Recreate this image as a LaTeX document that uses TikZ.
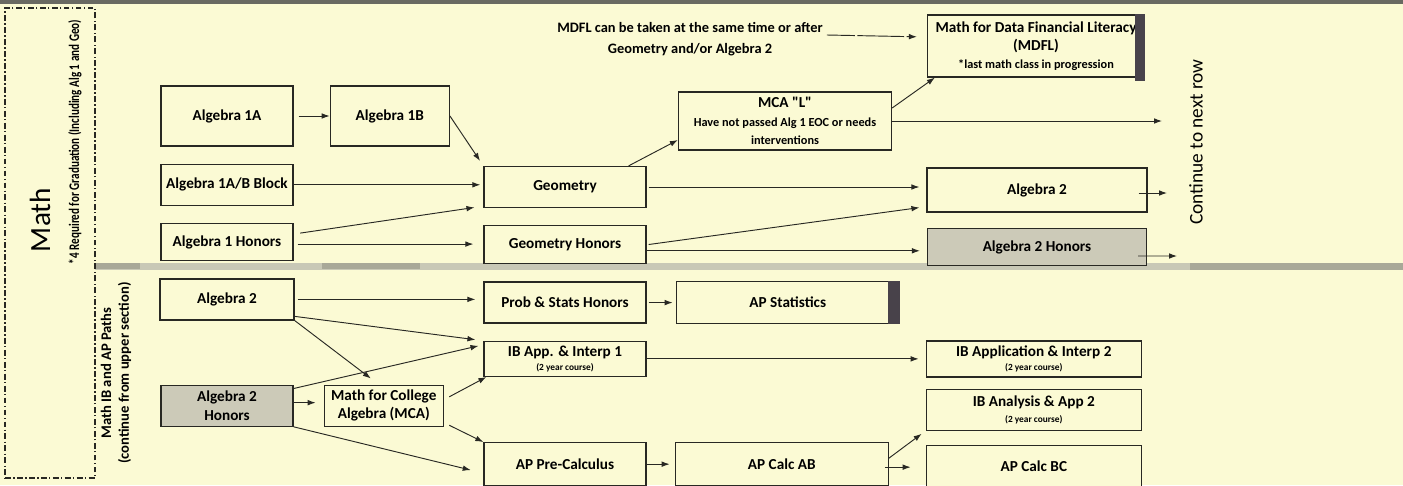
\documentclass[tikz,border=0pt]{standalone}
\usepackage{fontspec}
\usepackage{graphicx}
\setmainfont{Carlito}
\usetikzlibrary{positioning,arrows,arrows.meta}
\definecolor{paper}{RGB}{251,250,212}
\definecolor{inkc}{RGB}{40,40,35}
\definecolor{shade}{RGB}{204,202,184}
\definecolor{bandc}{RGB}{200,200,182}
\definecolor{bandd}{RGB}{168,168,152}
\definecolor{darkbar}{RGB}{72,66,74}
\definecolor{topband}{RGB}{105,105,98}
\newcommand\sq{\XeTeXglyph\XeTeXcharglyph"22\relax}

\begin{document}
\begin{tikzpicture}[
  x=0.3mm,y=-0.3mm,
  node distance=5.1mm and 10.8mm,
  course/.style={draw=inkc,line width=1.1pt,fill=paper,align=center,inner sep=1pt,
    font=\bfseries\fontsize{13}{15.5}\selectfont},
  shaded/.style={course,fill=shade},
  link/.style={draw=inkc,line width=0.8pt,-{Latex[length=2.4mm,width=1.7mm]}}
]
\useasboundingbox (0,0) rectangle (1403,485);
\fill[paper] (0,0) rectangle (1403,485);
\fill[topband] (0,0) rectangle (1403,4);
% divider between the two sections
\fill[bandc] (95,263) rectangle (1403,270);
\fill[bandd] (95,263) rectangle (140,269);
\fill[bandd] (322,263) rectangle (420,269);
\fill[bandd] (1190,263) rectangle (1403,270);

% side labels
\node[draw=inkc,line width=1.3pt,dash pattern=on 5pt off 2pt on 1.2pt off 2pt,
  minimum width=27mm,minimum height=141mm] (mathframe) at (50,243) {};
\node[rotate=90,font=\fontsize{25}{30}\selectfont] (mathlbl) at (40,220) {Math};
\node[rotate=90,font=\bfseries\fontsize{12.5}{15}\selectfont] (gradlbl) at (75,142)
  {\scalebox{0.76}[1]{*4 Required for Graduation (Including Alg 1 and Geo)}};
\node[rotate=90,align=center,font=\bfseries\fontsize{12.5}{15.3}\selectfont] (pathlbl) at (116,373)
  {Math IB and AP Paths\\(continue from upper section)};
\node[rotate=90,font=\fontsize{16.5}{19}\selectfont] (contlbl) at (1196,142) {Continue to next row};
\node[align=center,font=\bfseries\fontsize{12.3}{18.5}\selectfont] (mdflnote) at (690,39)
  {MDFL can be taken at the same time or after\\Geometry and/or Algebra 2};

% first column
\node[course,minimum width=39.6mm,minimum height=18mm] (alga) at (227,116) {Algebra 1A};
\node[course,minimum width=39.6mm,minimum height=12.3mm,below=of alga] (algblock) {Algebra 1A/B Block};
\node[course,minimum width=39.6mm,minimum height=11.1mm,below=of algblock] (alghon) {Algebra 1 Honors};
\node[course,minimum width=40.2mm,minimum height=12.3mm,below=of alghon] (lalgtwo) {Algebra 2};
\node[shaded,minimum width=39.6mm,minimum height=12.3mm,below=19.2mm of lalgtwo] (lalgtwohon)
  {Algebra 2\\Honors};

% second column
\node[course,minimum width=35.7mm,minimum height=18mm,right=of alga] (algb) {Algebra 1B};
\node[course,minimum width=35.7mm,minimum height=12.3mm,right=9mm of lalgtwohon] (mca)
  {Math for College\\Algebra (MCA)};

% third column
\node[course,minimum width=48.6mm,minimum height=12.3mm] (geo) at (565,187) {Geometry};
\node[course,minimum width=48.6mm,minimum height=11.4mm,below=of geo] (geohon) {Geometry Honors};
\node[course,minimum width=48.6mm,minimum height=12.3mm,below=of geohon] (probstat) {Prob \& Stats Honors};
\node[course,minimum width=48.6mm,minimum height=10.5mm,below=of probstat] (ibappone)
  {IB App. \& Interp 1\\[-3pt]\fontsize{8}{9}\selectfont (2 year course)};
\node[course,minimum width=48.6mm,minimum height=12.9mm,below=19.5mm of ibappone] (precalc) {AP Pre-Calculus};

% fourth column
\node[course,minimum width=63.9mm,minimum height=17.4mm] (mcal) at (785,121)
  {MCA \sq L\sq\\\fontsize{10.5}{12.5}\selectfont Have not passed Alg 1 EOC or needs\\
   \fontsize{10.5}{12.5}\selectfont interventions};
\node[course,minimum width=66.9mm,minimum height=12.6mm,right=8.7mm of probstat] (apstat) {AP Statistics};
\node[course,minimum width=63.9mm,minimum height=12.9mm,right=8.4mm of precalc] (calcab) {AP Calc AB};

% fifth column
\node[course,minimum width=65.1mm,minimum height=18.6mm] (mdfl) at (1036,46)
  {Math for Data Financial Literacy\\(MDFL)\\\fontsize{10.5}{12}\selectfont *last math class in progression};
\node[course,minimum width=66mm,minimum height=13.2mm] (algtwo) at (1037,190) {Algebra 2};
\node[shaded,minimum width=65.7mm,minimum height=11.1mm] (algtwohon) at (1037,247) {Algebra 2 Honors};
\node[course,minimum width=64.5mm,minimum height=10.8mm,right=83.7mm of ibappone] (ibapptwo)
  {IB Application \& Interp 2\\[-3pt]\fontsize{8}{9}\selectfont (2 year course)};
\node[course,minimum width=64.5mm,minimum height=12.3mm,below=3.3mm of ibapptwo] (ibanatwo)
  {IB Analysis \& App 2\\[-2pt]\fontsize{8}{9}\selectfont (2 year course)};
\node[course,minimum width=64.5mm,minimum height=12.6mm,below=4.2mm of ibanatwo] (calcbc) {AP Calc BC};

\fill[darkbar] ([xshift=-3mm]mdfl.north east) rectangle ([yshift=-0.9mm]mdfl.south east);
\fill[darkbar] ([xshift=-3.6mm]apstat.north east) rectangle (apstat.south east);

\coordinate (nextone) at (1162,121);
\coordinate (nexttwo) at (1167,193);
\coordinate (nextthree) at (1177,256);

% upper section
\path (alga) edge[link,shorten <=1.5mm] (algb)
(algb.east) edge[link,shorten >=1.8mm] (geo.north west)
(algblock.east) edge[link,shorten >=0.9mm] (algblock.east -| geo.west)
([yshift=2.4mm]alghon.east) edge[link,shorten <=2mm,shorten >=2.7mm] ([yshift=0.6mm]geo.south west)
([yshift=-0.6mm]alghon.east) edge[link,shorten <=1.2mm,shorten >=3mm] ([yshift=-0.6mm]alghon.east -| geohon.west)
([xshift=-5.4mm]geo.north east) edge[link] ([yshift=-5.7mm]mcal.west)
([yshift=3.9mm]mcal.east) edge[link] ([xshift=2.4mm]mdfl.south west)
(mcal.east) edge[link] (nextone)
(geo.east) edge[link,shorten <=0.6mm,shorten >=2.1mm] (geo.east -| algtwo.west)
(geohon.east) edge[link,shorten <=0.6mm,shorten >=2.1mm] ([yshift=1.8mm]algtwo.south west)
([yshift=-1.8mm]geohon.east) edge[link,shorten >=2.1mm] ([yshift=-1.8mm]geohon.east -| algtwohon.west)
([xshift=-2.7mm,yshift=-0.9mm]algtwo.east) edge[link] (nexttwo)
([xshift=-2.7mm,yshift=-2.7mm]algtwohon.east) edge[link] (nextthree);
\path ([yshift=1.2mm]mdflnote.east) edge[link,dash pattern=on 24pt off 2pt on 40pt off 2pt,shorten >=3mm] ([yshift=2.7mm]mdfl.west);

% lower section
\path (lalgtwo.east) edge[link,shorten <=0.9mm,shorten >=2.4mm] (lalgtwo.east -| probstat.west)
([yshift=-5.1mm]lalgtwo.east) edge[link,shorten >=2.4mm] (ibappone.north west)
(lalgtwo.south east) edge[link,shorten >=3mm] ([xshift=-1.5mm]mca.north)
([yshift=-1.2mm]lalgtwohon.north east) edge[link,shorten >=1.5mm] ([yshift=-1.2mm]ibappone.north west)
([yshift=0.9mm]lalgtwohon.east) edge[link,shorten >=2.4mm] ([yshift=0.9mm]lalgtwohon.east -| mca.west)
(lalgtwohon.south east) edge[link,shorten >=3.9mm] ([yshift=-2.7mm]precalc.west)
([yshift=1.8mm]mca.east) edge[link,shorten <=1.8mm] ([xshift=0.9mm]ibappone.south west)
([yshift=-5.1mm]mca.east) edge[link,shorten <=1.8mm] (precalc.north west)
(probstat.east) edge[link,shorten <=0.6mm,shorten >=0.9mm] (probstat.east -| apstat.west)
(ibappone.east) edge[link,shorten >=2.1mm] (ibappone.east -| ibapptwo.west)
(precalc.east) edge[link,shorten >=1.5mm] (precalc.east -| calcab.west)
([yshift=1.8mm]calcab.east) edge[link,shorten >=1.5mm] (ibanatwo.south west)
([xshift=-1.2mm,yshift=-0.9mm]calcab.east) edge[link,shorten >=4.5mm] ([yshift=-0.9mm]calcab.east -| calcbc.west);
\end{tikzpicture}
\end{document}
